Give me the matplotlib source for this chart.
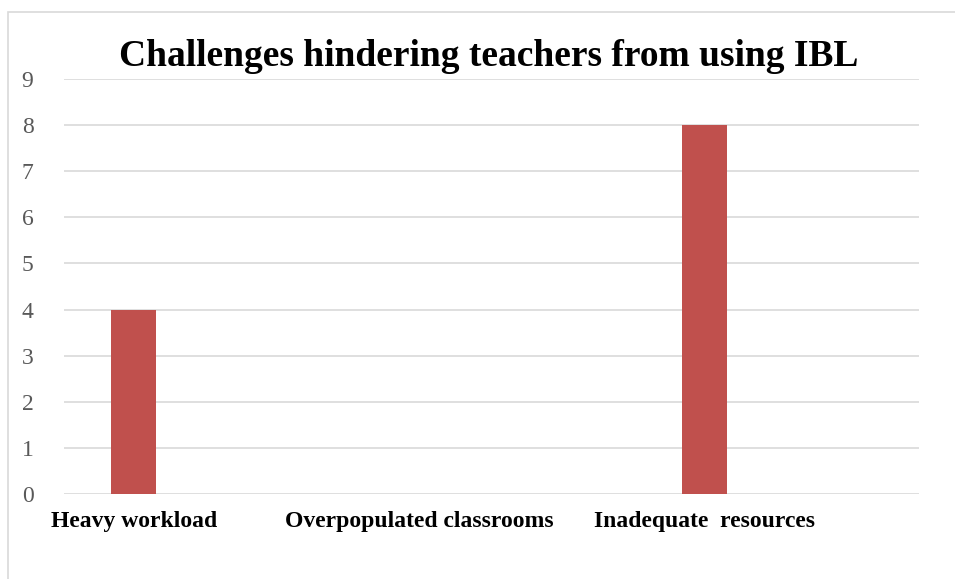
import matplotlib as mpl
mpl.use('Agg')
import matplotlib.pyplot as plt
from matplotlib.patches import Rectangle

# challenges named by teachers (counts)
categories = ['Heavy workload', 'Overpopulated classrooms', 'Inadequate  resources']
counts = [4, 0, 8]
yticks = list(range(0, 10))

plt.rcParams['font.family'] = ['Liberation Serif', 'DejaVu Serif']

W, H = 955, 579
fig = plt.figure(figsize=(W / 100, H / 100), dpi=100)
ax = fig.add_axes([64 / W, 1 - 494 / H, (919 - 64) / W, (494 - 79) / H])

x = list(range(len(categories)))
ax.bar(x, counts, width=0.158, color='#C0504D', zorder=3)

ax.set_xlim(-0.245, 2.75)
ax.set_ylim(0, 9)
ax.set_yticks(yticks)
ax.set_yticklabels([str(v) for v in yticks], fontsize=17, color='#595959')
ax.set_xticks(x)
ax.set_xticklabels(categories, fontsize=17, fontweight='bold', color='black')
ax.tick_params(axis='both', length=0)
ax.tick_params(axis='y', pad=22)
ax.tick_params(axis='x', pad=12)
ax.grid(axis='y', color='#D9D9D9', linewidth=1.2, zorder=0)
for s in ax.spines.values():
    s.set_visible(False)

fig.text(489 / W, 1 - 66 / H, 'Challenges hindering teachers from using IBL',
         ha='center', va='baseline', fontsize=27, fontweight='bold')

# chart frame (cut off at right and bottom)
fig.patches.append(Rectangle((8 / W, -0.1), 1.5, 1 - 12 / H + 0.1,
                             transform=fig.transFigure, fill=False,
                             edgecolor='#D9D9D9', linewidth=1.2))

fig.savefig('out.png', dpi=100)
